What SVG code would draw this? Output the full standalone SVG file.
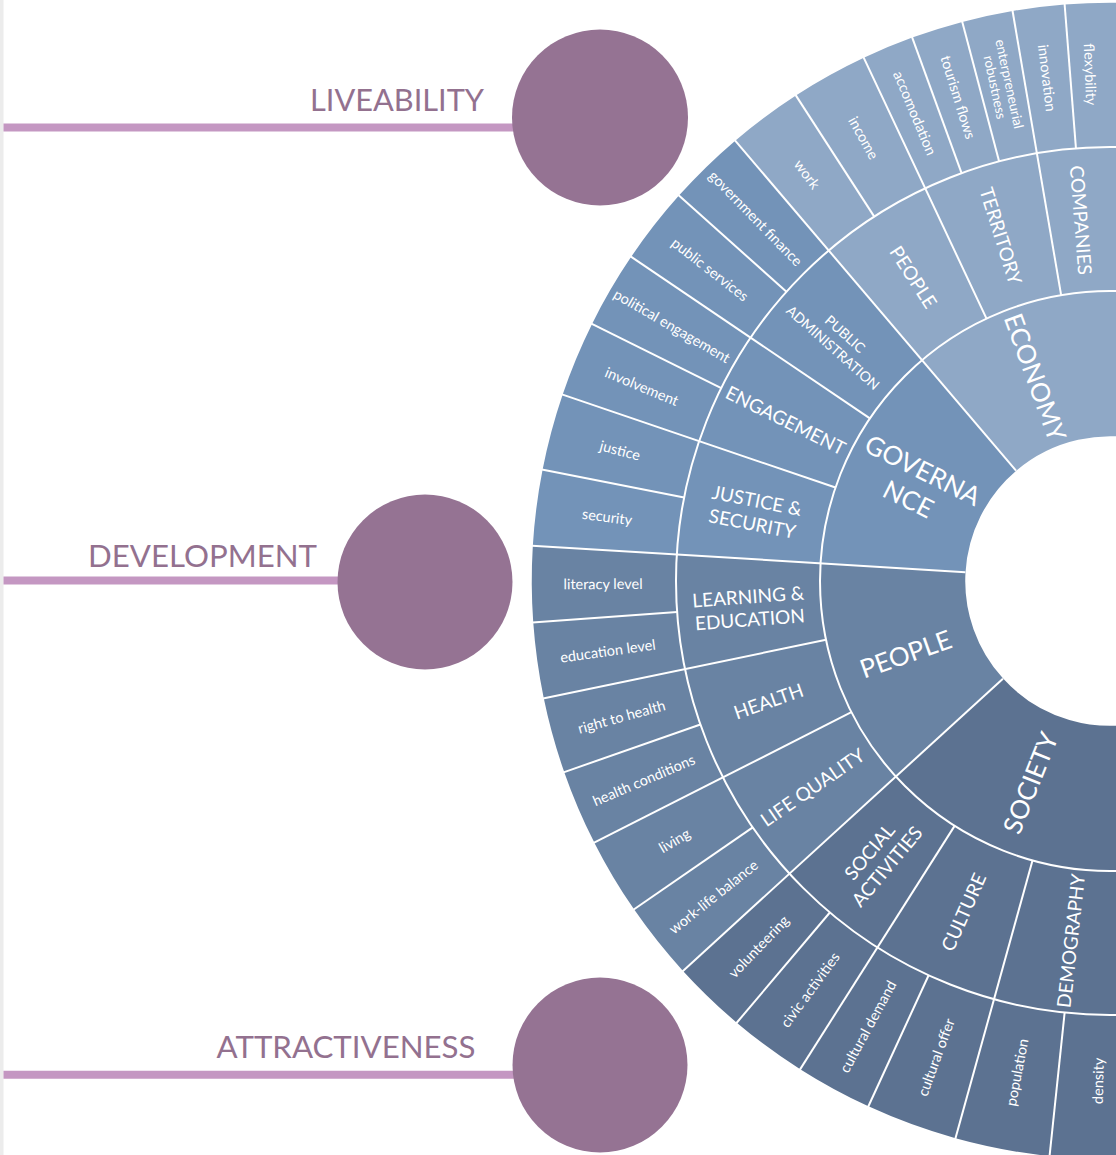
<svg xmlns="http://www.w3.org/2000/svg" width="1116" height="1155" viewBox="0 0 1116 1155">
<style>
.lbl{font-family:Lato,"Liberation Sans",sans-serif;fill:#fff;text-anchor:middle;dominant-baseline:central}
.leaf{font-size:14.5px}
.leaf2{font-size:13.5px}
.mid{font-size:19px}
.sm{font-size:14px}
.top{font-size:26px}
.cell{fill:none}
.r1{stroke-width:145.5}
.r2{stroke-width:144.5}
.r3{stroke-width:144.5}
.e{stroke:#8fa8c6}
.g{stroke:#7393b8}
.p{stroke:#6983a3}
.s{stroke:#5c7291}
.sep line,.sep circle{stroke:#fff;stroke-width:2;fill:none}
.title{font-family:Lato,"Liberation Sans",sans-serif;font-size:31px;fill:#93718f}
.hub{fill:#957393}
.conn line{stroke:#c497c2;stroke-width:8}
</style>
<rect width="1116" height="1155" fill="#fff"/>
<rect x="0" y="0" width="3.5" height="1155" fill="#ececec"/>

<g id="connectors" class="conn">
<line x1="3.5" y1="127.5" x2="540" y2="127.5"/>
<line x1="3.5" y1="580.5" x2="380" y2="580.5"/>
<line x1="3.5" y1="1074.7" x2="540" y2="1074.7"/>
</g>

<g id="liveability"><circle class="hub" cx="600" cy="117.5" r="88"/><text class="title" x="310" y="111" textLength="174" lengthAdjust="spacingAndGlyphs">LIVEABILITY</text></g>
<g id="development"><circle class="hub" cx="425" cy="582" r="87.5"/><text class="title" x="88" y="566.7" textLength="229" lengthAdjust="spacingAndGlyphs">DEVELOPMENT</text></g>
<g id="attractiveness"><circle class="hub" cx="600" cy="1065" r="87.5"/><text class="title" x="216.5" y="1058.3" textLength="259" lengthAdjust="spacingAndGlyphs">ATTRACTIVENESS</text></g>

<g id="sunburst" transform="translate(1110 581)">
<!-- ring 1 -->
<g id="economy"><circle class="cell r1 e" r="217.5" pathLength="360" stroke-dasharray="55.4 360" transform="rotate(-130.4)"/><text class="lbl top" font-size="27" transform="rotate(-110) translate(217 0) rotate(180)">ECONOMY</text></g>
<g id="governance"><circle class="cell r1 g" r="217.5" pathLength="360" stroke-dasharray="46.1 360" transform="rotate(-176.5)"/><text class="lbl top" font-size="28" transform="rotate(-153.45) translate(217 0) rotate(180)"><tspan x="0" dy="-0.62em">GOVERNA</tspan><tspan x="0" dy="1.24em">NCE</tspan></text></g>
<g id="people"><circle class="cell r1 p" r="217.5" pathLength="360" stroke-dasharray="45.9 360" transform="rotate(-222.4)"/><text class="lbl top" transform="rotate(-199.5) translate(217 0) rotate(180)">PEOPLE</text></g>
<g id="society"><circle class="cell r1 s" r="217.5" pathLength="360" stroke-dasharray="62.6 360" transform="rotate(-285)"/><text class="lbl top" font-size="25" transform="rotate(-248.3) translate(217 0) rotate(180)">SOCIETY</text></g>

<!-- ring 2 -->
<g id="companies"><circle class="cell r2 e" r="362" pathLength="360" stroke-dasharray="24.7 360" transform="rotate(-99.7)"/><text class="lbl mid" transform="rotate(-94.5) translate(362 0) rotate(180)">COMPANIES</text></g>
<g id="territory"><circle class="cell r2 e" r="362" pathLength="360" stroke-dasharray="15.5 360" transform="rotate(-115.2)"/><text class="lbl mid" transform="rotate(-107.45) translate(362 0) rotate(180)">TERRITORY</text></g>
<g id="people-economy"><circle class="cell r2 e" r="362" pathLength="360" stroke-dasharray="15.2 360" transform="rotate(-130.4)"/><text class="lbl mid" transform="rotate(-122.8) translate(362 0) rotate(180)">PEOPLE</text></g>
<g id="public-administration"><circle class="cell r2 g" r="362" pathLength="360" stroke-dasharray="15.5 360" transform="rotate(-145.9)"/><text class="lbl sm" transform="rotate(-138.3) translate(362 0) rotate(180)"><tspan x="0" dy="-0.65em">PUBLIC</tspan><tspan x="0" dy="1.3em">ADMINISTRATION</tspan></text></g>
<g id="engagement"><circle class="cell r2 g" r="362" pathLength="360" stroke-dasharray="15.3 360" transform="rotate(-161.2)"/><text class="lbl mid" transform="rotate(-153.55) translate(362 0) rotate(180)">ENGAGEMENT</text></g>
<g id="justice-security"><circle class="cell r2 g" r="362" pathLength="360" stroke-dasharray="15.3 360" transform="rotate(-176.5)"/><text class="lbl mid" transform="rotate(-168.85) translate(362 0) rotate(180)"><tspan x="0" dy="-0.62em">JUSTICE &amp;</tspan><tspan x="0" dy="1.24em">SECURITY</tspan></text></g>
<g id="learning-education"><circle class="cell r2 p" r="362" pathLength="360" stroke-dasharray="15.2 360" transform="rotate(-191.7)"/><text class="lbl mid" transform="rotate(-184.1) translate(362 0) rotate(180)"><tspan x="0" dy="-0.6em">LEARNING &amp;</tspan><tspan x="0" dy="1.2em">EDUCATION</tspan></text></g>
<g id="health"><circle class="cell r2 p" r="362" pathLength="360" stroke-dasharray="15.2 360" transform="rotate(-206.9)"/><text class="lbl mid" transform="rotate(-199.3) translate(362 0) rotate(180)">HEALTH</text></g>
<g id="life-quality"><circle class="cell r2 p" r="362" pathLength="360" stroke-dasharray="15.5 360" transform="rotate(-222.4)"/><text class="lbl mid" transform="rotate(-214.65) translate(362 0) rotate(180)">LIFE QUALITY</text></g>
<g id="social-activities"><circle class="cell r2 s" r="362" pathLength="360" stroke-dasharray="15.2 360" transform="rotate(-237.6)"/><text class="lbl mid" transform="rotate(-230) translate(362 0) rotate(180)"><tspan x="0" dy="-0.6em">SOCIAL</tspan><tspan x="0" dy="1.2em">ACTIVITIES</tspan></text></g>
<g id="culture"><circle class="cell r2 s" r="362" pathLength="360" stroke-dasharray="16.9 360" transform="rotate(-254.5)"/><text class="lbl mid" transform="rotate(-246.05) translate(362 0) rotate(180)">CULTURE</text></g>
<g id="demography"><circle class="cell r2 s" r="362" pathLength="360" stroke-dasharray="30.5 360" transform="rotate(-285)"/><text class="lbl mid" transform="rotate(-263.7) translate(362 0) rotate(180)">DEMOGRAPHY</text></g>

<!-- ring 3 -->
<g id="flexybility"><circle class="cell r3 e" r="506" pathLength="360" stroke-dasharray="19.5 360" transform="rotate(-94.5)"/><text class="lbl leaf" transform="rotate(-92.2) translate(507 0) rotate(180)">flexybility</text></g>
<g id="innovation"><circle class="cell r3 e" r="506" pathLength="360" stroke-dasharray="5.2 360" transform="rotate(-99.7)"/><text class="lbl leaf" transform="rotate(-97.1) translate(507 0) rotate(180)">innovation</text></g>
<g id="enterpreneurial-robustness"><circle class="cell r3 e" r="506" pathLength="360" stroke-dasharray="5.1 360" transform="rotate(-104.8)"/><text class="lbl leaf2" transform="rotate(-102.25) translate(507 0) rotate(180)"><tspan x="0" dy="-0.55em">enterpreneurial</tspan><tspan x="0" dy="1.1em">robustness</tspan></text></g>
<g id="tourism-flows"><circle class="cell r3 e" r="506" pathLength="360" stroke-dasharray="5.2 360" transform="rotate(-110)"/><text class="lbl leaf" transform="rotate(-107.4) translate(507 0) rotate(180)">tourism flows</text></g>
<g id="accomodation"><circle class="cell r3 e" r="506" pathLength="360" stroke-dasharray="5.2 360" transform="rotate(-115.2)"/><text class="lbl leaf" transform="rotate(-112.6) translate(507 0) rotate(180)">accomodation</text></g>
<g id="income"><circle class="cell r3 e" r="506" pathLength="360" stroke-dasharray="7.7 360" transform="rotate(-122.9)"/><text class="lbl leaf" transform="rotate(-119.05) translate(507 0) rotate(180)">income</text></g>
<g id="work"><circle class="cell r3 e" r="506" pathLength="360" stroke-dasharray="7.5 360" transform="rotate(-130.4)"/><text class="lbl leaf" transform="rotate(-126.65) translate(507 0) rotate(180)">work</text></g>
<g id="government-finance"><circle class="cell r3 g" r="506" pathLength="360" stroke-dasharray="7.8 360" transform="rotate(-138.2)"/><text class="lbl leaf" transform="rotate(-134.3) translate(507 0) rotate(180)">government finance</text></g>
<g id="public-services"><circle class="cell r3 g" r="506" pathLength="360" stroke-dasharray="7.7 360" transform="rotate(-145.9)"/><text class="lbl leaf" transform="rotate(-142.05) translate(507 0) rotate(180)">public services</text></g>
<g id="political-engagement"><circle class="cell r3 g" r="506" pathLength="360" stroke-dasharray="7.7 360" transform="rotate(-153.6)"/><text class="lbl leaf" transform="rotate(-149.75) translate(507 0) rotate(180)">political engagement</text></g>
<g id="involvement"><circle class="cell r3 g" r="506" pathLength="360" stroke-dasharray="7.6 360" transform="rotate(-161.2)"/><text class="lbl leaf" transform="rotate(-157.4) translate(507 0) rotate(180)">involvement</text></g>
<g id="justice"><circle class="cell r3 g" r="506" pathLength="360" stroke-dasharray="7.7 360" transform="rotate(-168.9)"/><text class="lbl leaf" transform="rotate(-165.05) translate(507 0) rotate(180)">justice</text></g>
<g id="security"><circle class="cell r3 g" r="506" pathLength="360" stroke-dasharray="7.6 360" transform="rotate(-176.5)"/><text class="lbl leaf" transform="rotate(-172.7) translate(507 0) rotate(180)">security</text></g>
<g id="literacy-level"><circle class="cell r3 p" r="506" pathLength="360" stroke-dasharray="7.6 360" transform="rotate(-184.1)"/><text class="lbl leaf" transform="rotate(-180.3) translate(507 0) rotate(180)">literacy level</text></g>
<g id="education-level"><circle class="cell r3 p" r="506" pathLength="360" stroke-dasharray="7.6 360" transform="rotate(-191.7)"/><text class="lbl leaf" transform="rotate(-187.9) translate(507 0) rotate(180)">education level</text></g>
<g id="right-to-health"><circle class="cell r3 p" r="506" pathLength="360" stroke-dasharray="7.6 360" transform="rotate(-199.3)"/><text class="lbl leaf" transform="rotate(-195.5) translate(507 0) rotate(180)">right to health</text></g>
<g id="health-conditions"><circle class="cell r3 p" r="506" pathLength="360" stroke-dasharray="7.6 360" transform="rotate(-206.9)"/><text class="lbl leaf" transform="rotate(-203.1) translate(507 0) rotate(180)">health conditions</text></g>
<g id="living"><circle class="cell r3 p" r="506" pathLength="360" stroke-dasharray="7.7 360" transform="rotate(-214.6)"/><text class="lbl leaf" transform="rotate(-210.75) translate(507 0) rotate(180)">living</text></g>
<g id="work-life-balance"><circle class="cell r3 p" r="506" pathLength="360" stroke-dasharray="7.8 360" transform="rotate(-222.4)"/><text class="lbl leaf" transform="rotate(-218.5) translate(507 0) rotate(180)">work-life balance</text></g>
<g id="volunteering"><circle class="cell r3 s" r="506" pathLength="360" stroke-dasharray="7.4 360" transform="rotate(-229.8)"/><text class="lbl leaf" transform="rotate(-226.1) translate(507 0) rotate(180)">volunteering</text></g>
<g id="civic-activities"><circle class="cell r3 s" r="506" pathLength="360" stroke-dasharray="7.8 360" transform="rotate(-237.6)"/><text class="lbl leaf" transform="rotate(-233.7) translate(507 0) rotate(180)">civic activities</text></g>
<g id="cultural-demand"><circle class="cell r3 s" r="506" pathLength="360" stroke-dasharray="7.7 360" transform="rotate(-245.3)"/><text class="lbl leaf" transform="rotate(-241.45) translate(507 0) rotate(180)">cultural demand</text></g>
<g id="cultural-offer"><circle class="cell r3 s" r="506" pathLength="360" stroke-dasharray="9.2 360" transform="rotate(-254.5)"/><text class="lbl leaf" transform="rotate(-249.9) translate(507 0) rotate(180)">cultural offer</text></g>
<g id="population"><circle class="cell r3 s" r="506" pathLength="360" stroke-dasharray="9.5 360" transform="rotate(-264)"/><text class="lbl leaf" transform="rotate(-259.25) translate(500 0) rotate(180)">population</text></g>
<g id="density"><circle class="cell r3 s" r="506" pathLength="360" stroke-dasharray="21 360" transform="rotate(-285)"/><text class="lbl leaf" transform="rotate(-268.6) translate(500 0) rotate(180)">density</text></g>

<!-- white separators -->
<g id="separators" class="sep">
<circle r="290"/>
<circle r="434"/>
<line x1="145" x2="579" transform="rotate(-130.4)"/>
<line x1="145" x2="579" transform="rotate(-176.5)"/>
<line x1="145" x2="579" transform="rotate(-222.4)"/>
<line x1="290" x2="579" transform="rotate(-99.7)"/>
<line x1="290" x2="579" transform="rotate(-115.2)"/>
<line x1="290" x2="579" transform="rotate(-145.9)"/>
<line x1="290" x2="579" transform="rotate(-161.2)"/>
<line x1="290" x2="579" transform="rotate(-191.7)"/>
<line x1="290" x2="579" transform="rotate(-206.9)"/>
<line x1="290" x2="579" transform="rotate(-237.6)"/>
<line x1="290" x2="579" transform="rotate(-254.5)"/>
<line x1="434" x2="579" transform="rotate(-94.5)"/>
<line x1="434" x2="579" transform="rotate(-104.8)"/>
<line x1="434" x2="579" transform="rotate(-110)"/>
<line x1="434" x2="579" transform="rotate(-122.9)"/>
<line x1="434" x2="579" transform="rotate(-138.2)"/>
<line x1="434" x2="579" transform="rotate(-153.6)"/>
<line x1="434" x2="579" transform="rotate(-168.9)"/>
<line x1="434" x2="579" transform="rotate(-184.1)"/>
<line x1="434" x2="579" transform="rotate(-199.3)"/>
<line x1="434" x2="579" transform="rotate(-214.6)"/>
<line x1="434" x2="579" transform="rotate(-229.8)"/>
<line x1="434" x2="579" transform="rotate(-245.3)"/>
<line x1="434" x2="579" transform="rotate(-264)"/>
</g>
</g>
</svg>
